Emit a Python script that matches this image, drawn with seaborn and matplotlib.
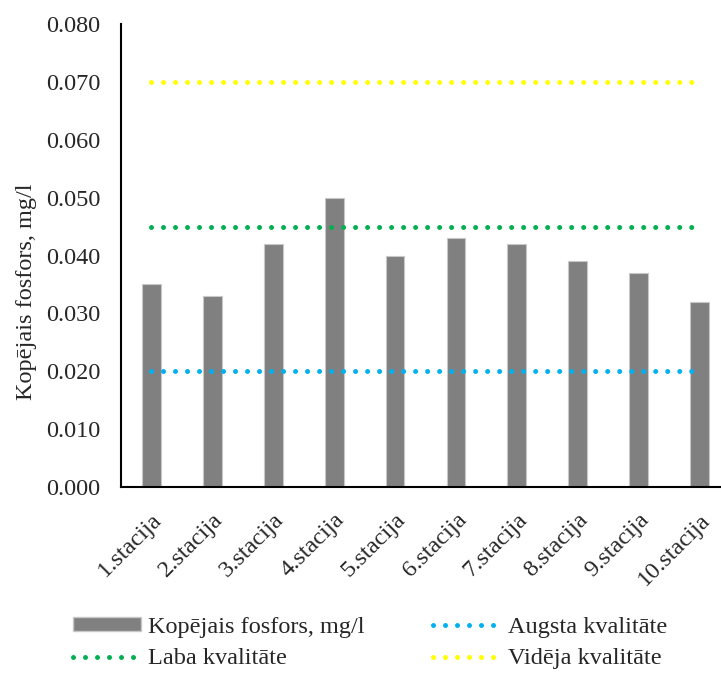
import matplotlib
matplotlib.use("Agg")
import matplotlib.pyplot as plt
import seaborn as sns
import pandas as pd
from matplotlib.lines import Line2D
from matplotlib.patches import Patch

stations = ["1.stacija", "2.stacija", "3.stacija", "4.stacija", "5.stacija",
            "6.stacija", "7.stacija", "8.stacija", "9.stacija", "10.stacija"]
phosphorus = [0.035, 0.033, 0.042, 0.050, 0.040, 0.043, 0.042, 0.039, 0.037, 0.032]
high_quality = 0.020
good_quality = 0.045
medium_quality = 0.070
y_ticks = [0.000, 0.010, 0.020, 0.030, 0.040, 0.050, 0.060, 0.070, 0.080]

sns.set_theme(style="white")
plt.rcParams["font.family"] = ["Liberation Serif", "DejaVu Serif"]

df = pd.DataFrame({"stacija": stations, "P": phosphorus})

FS = 17.5
W, H = 721, 673
fig = plt.figure(figsize=(W / 100, H / 100), dpi=100)
left, right, top, bottom = 121, 730, 24, 487
ax = fig.add_axes([left / W, 1 - bottom / H, (right - left) / W, (bottom - top) / H])

sns.barplot(data=df, x="stacija", y="P", color="#808080", width=0.31,
            edgecolor="#c8c8c8", linewidth=0.8, saturation=1, ax=ax)

n = len(stations)
xs = [0, n - 1]
line_kw = dict(lw=3.6, dashes=(0.001, 2.4), dash_capstyle="round", solid_capstyle="round")
ax.plot(xs, [high_quality] * 2, color="#00B0F0", **line_kw)
ax.plot(xs, [good_quality] * 2, color="#00B050", **line_kw)
ax.plot(xs, [medium_quality] * 2, color="#FFFF00", **line_kw)

ax.set_xlim(-0.5, n - 0.5)
ax.set_ylim(0, 0.080)
ax.set_yticks(y_ticks)
ax.set_yticklabels([f"{v:.3f}" for v in y_ticks], fontsize=FS)
ax.tick_params(axis="both", length=0)
ax.tick_params(axis="y", pad=15)
ax.set_xticks(range(n))
ax.set_xticklabels(stations, fontsize=FS, rotation=45, ha="right",
                   rotation_mode="anchor")
ax.tick_params(axis="x", pad=16)
ax.set_xlabel("")
ax.set_ylabel("Kopējais fosfors, mg/l", fontsize=FS)
ax.yaxis.set_label_coords((37 - left) / (right - left), (bottom - 292) / (bottom - top))

for s in ["top", "right"]:
    ax.spines[s].set_visible(False)
for s in ["left", "bottom"]:
    ax.spines[s].set_color("black")
    ax.spines[s].set_linewidth(1.5)

handles = [
    Patch(facecolor="#808080", edgecolor="#c8c8c8"),
    Line2D([0], [0], color="#00B050", **line_kw),
    Line2D([0], [0], color="#00B0F0", **line_kw),
    Line2D([0], [0], color="#FFFF00", **line_kw),
]
labels = ["Kopējais fosfors, mg/l", "Laba kvalitāte",
          "Augsta kvalitāte", "Vidēja kvalitāte"]
fig.legend(handles, labels, ncol=2, loc="center", bbox_to_anchor=(370 / W, 1 - 643 / H),
           frameon=False, fontsize=FS, handlelength=2.8, handleheight=0.5,
           columnspacing=2.8, labelspacing=0.45, handletextpad=0.3)

fig.savefig("out.png", dpi=100)
